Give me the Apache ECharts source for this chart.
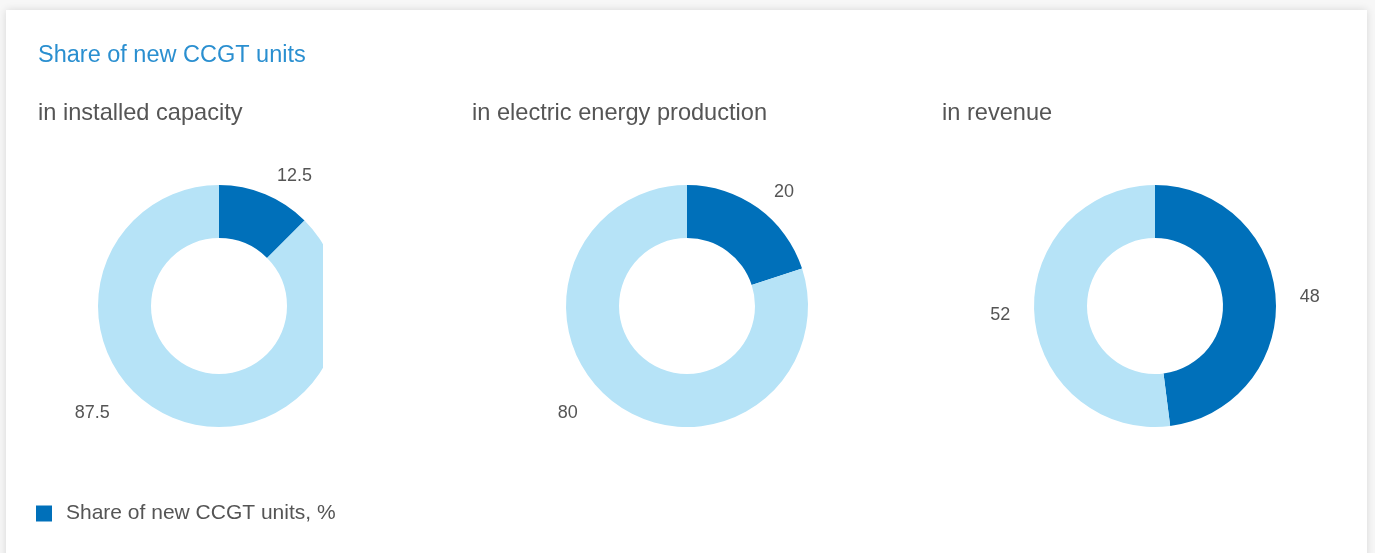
<!DOCTYPE html>
<html>
<head>
<meta charset="utf-8">
<script src="https://cdn.jsdelivr.net/npm/echarts@6/dist/echarts.min.js"></script>
<style>
  html, body { margin: 0; padding: 0; width: 1375px; height: 553px; overflow: hidden; background: #f7f7f7; }
  #card { position: absolute; left: 6px; top: 10px; width: 1361px; height: 570px; background: #fff;
          box-shadow: 0 0 8px rgba(0,0,0,0.13); }
  #main { position: absolute; left: 0; top: 0; width: 1361px; height: 543px; }
  #first { position: absolute; left: 0; top: 0; width: 317px; height: 543px; overflow: hidden; }
</style>
</head>
<body>
<div id="card">
  <div id="main"></div>
  <div id="first"></div>
</div>
<script>
// Chart content
const chartTitle = 'Share of new CCGT units';
const categories = ['in installed capacity', 'in electric energy production', 'in revenue'];
const seriesName = 'Share of new CCGT units, %';
const otherName = 'Other units, %';
const newUnitShare = [12.5, 20, 48];
const otherShare = [87.5, 80, 52];

// Styling
const DARK = '#0070ba';
const LIGHT = '#b6e3f7';
const TEXT = '#555555';
const FONT = '"Liberation Sans", Arial, Helvetica, sans-serif';
const pieCenters = [213, 681, 1149];
const pieCenterY = 296;
const innerR = 68, outerR = 121;
const subtitleLeft = [32, 466, 936];
const lowestLabelY = 403;   // labels below this are lifted and slid along a wider circle
const liftedLabelR = 150;

function donut(i) {
  const cx = pieCenters[i];
  return {
    type: 'pie',
    name: categories[i],
    left: 0, top: 0, right: 0, bottom: 0,
    center: [cx, pieCenterY],
    radius: [innerR, outerR],
    startAngle: 90,
    clockwise: true,
    silent: true,
    label: {
      show: true, position: 'outside', formatter: '{c}',
      fontFamily: FONT, fontSize: 18, color: TEXT,
      distanceToLabelLine: 4
    },
    labelLine: { show: false, length: 20, length2: 0 },
    labelLayout: function (p) {
      const r = p.labelRect;
      const midY = r.y + r.height / 2;
      if (midY <= lowestLabelY) return {};
      const dy = lowestLabelY - pieCenterY;
      const dx = Math.sqrt(Math.max(liftedLabelR * liftedLabelR - dy * dy, 0));
      const onLeft = r.x + r.width / 2 < cx;
      return { x: onLeft ? cx - dx - 4 : cx + dx + 4, y: lowestLabelY };
    },
    emphasis: { disabled: true },
    data: [
      { name: seriesName, value: newUnitShare[i], itemStyle: { color: DARK } },
      { name: otherName, value: otherShare[i], itemStyle: { color: LIGHT } }
    ]
  };
}

const main = echarts.init(document.getElementById('main'), null, { renderer: 'canvas' });
main.setOption({
  animation: false,
  title: [
    { text: chartTitle, left: 32, top: 34, padding: 0,
      textStyle: { fontFamily: FONT, fontSize: 23.5, fontWeight: 'normal', color: '#2a8fd0' } }
  ].concat(categories.map((c, i) => ({
    text: c, left: subtitleLeft[i], top: 91, padding: 0,
    textStyle: { fontFamily: FONT, fontSize: 23.6, fontWeight: 'normal', color: TEXT }
  }))),
  legend: {
    data: [seriesName],
    left: 30, top: 493, padding: 0,
    icon: 'rect', itemWidth: 16, itemHeight: 16,
    selectedMode: false,
    textStyle: { fontFamily: FONT, fontSize: 21, color: TEXT, padding: [0, 0, 0, 9] }
  },
  series: [donut(1), donut(2)]
});

const first = echarts.init(document.getElementById('first'), null, { renderer: 'canvas' });
first.setOption({
  animation: false,
  series: [donut(0)]
});
</script>
</body>
</html>
